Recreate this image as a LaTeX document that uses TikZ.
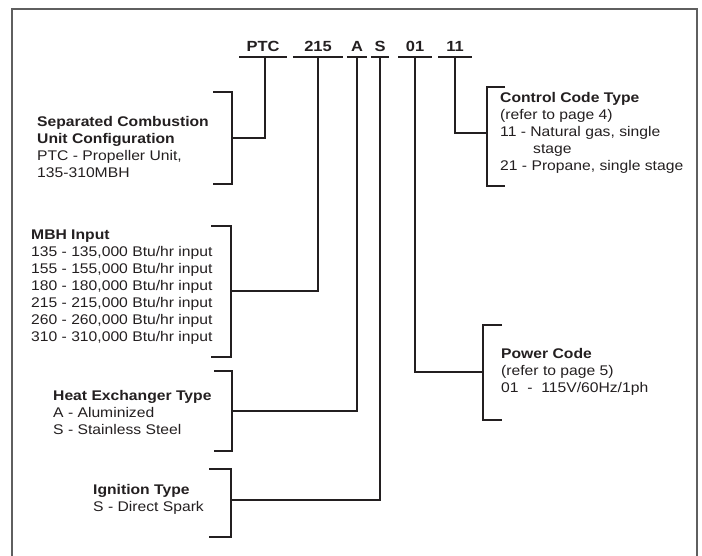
\documentclass[tikz,border=0pt]{standalone}
\usepackage{fontspec}
\setmainfont{Liberation Sans}[FakeStretch=1.12]
\definecolor{inkgray}{RGB}{35,31,32}
\definecolor{framegray}{RGB}{95,95,95}

\begin{document}
\begin{tikzpicture}[x=1pt, y=-1pt,
    code/.style={font=\fontsize{14.7}{17}\selectfont\bfseries, text=inkgray, inner xsep=0pt, inner ysep=5pt, text height=10.5pt, text depth=0pt},
    desc/.style={anchor=west, align=left, inner sep=0pt, text=inkgray, font=\fontsize{14}{17}\selectfont},
    lead/.style={draw=inkgray, line width=1.2pt},
    bracket/.style={draw=inkgray, line width=1.3pt}
]
\useasboundingbox (0,0) rectangle (702,556);

% open frame
\draw[framegray, line width=1.3pt] (12,556) -- (12,9) -- (697,9) -- (697,556);

% model number
\node[code, minimum width=47pt] (ptc) at (263,46.5) {PTC};
\node[code, minimum width=50pt] (mbh) at (318,46.5) {215};
\node[code, minimum width=20pt] (hx)  at (357,46.5) {A};
\node[code, minimum width=18pt] (ign) at (380,46.5) {S};
\node[code, minimum width=33pt] (pwr) at (415,46.5) {01};
\node[code, minimum width=33pt] (ctl) at (455,46.5) {11};
\draw[lead] (ptc.south west) -- (ptc.south east);
\draw[lead] (mbh.south west) -- (mbh.south east);
\draw[lead] (hx.south west) -- (hx.south east);
\draw[lead] (ign.south west) -- (ign.south east);
\draw[lead] (pwr.south west) -- (pwr.south east);
\draw[lead] (ctl.south west) -- (ctl.south east);

% left brackets
\coordinate (sepmid) at (232,138);
\draw[bracket] (213,92) -| (sepmid) |- (213,184);
\coordinate (mbhmid) at (231,291);
\draw[bracket] (211,226) -| (mbhmid) |- (211,357);
\coordinate (hxmid) at (232,411);
\draw[bracket] (214,371) -| (hxmid) |- (214,451);
\coordinate (ignmid) at (231,500);
\draw[bracket] (209,469) -| (ignmid) |- (209,537);

% right brackets
\coordinate (ctlmid) at (487,133);
\draw[bracket] (505,87) -| (ctlmid) |- (505,186);
\coordinate (pwrmid) at (483,372);
\draw[bracket] (502,325) -| (pwrmid) |- (502,420);

% leaders
\draw[lead] ([xshift=2pt]ptc.south) |- (sepmid);
\draw[lead] (mbh.south) |- (mbhmid);
\draw[lead] (hx.south) |- (hxmid);
\draw[lead] (ign.south) |- (ignmid);
\draw[lead] (pwr.south) |- (pwrmid);
\draw[lead] (ctl.south) |- (ctlmid);

% descriptions
\node[desc] (septext) at (37,147) {\textbf{Separated Combustion}\\\textbf{Unit Configuration}\\PTC - Propeller Unit,\\135-310MBH};
\node[desc] (mbhtext) at (31,287) {\textbf{MBH Input}\\135 - 135,000 Btu/hr input\\155 - 155,000 Btu/hr input\\180 - 180,000 Btu/hr input\\215 - 215,000 Btu/hr input\\260 - 260,000 Btu/hr input\\310 - 310,000 Btu/hr input};
\node[desc] (hxtext) at (53,412) {\textbf{Heat Exchanger Type}\\A - Aluminized\\S - Stainless Steel};
\node[desc] (igntext) at (93,499) {\textbf{Ignition Type}\\S - Direct Spark};
\node[desc] (ctltext) at (500,133) {\textbf{Control Code Type}\\(refer to page 4)\\11 - Natural gas, single\\\hspace*{33pt}stage\\21 - Propane, single stage};
\node[desc] (pwrtext) at (501,372) {\textbf{Power Code}\\(refer to page 5)\\01\ \ -\ \ 115V/60Hz/1ph};

\end{tikzpicture}
\end{document}
